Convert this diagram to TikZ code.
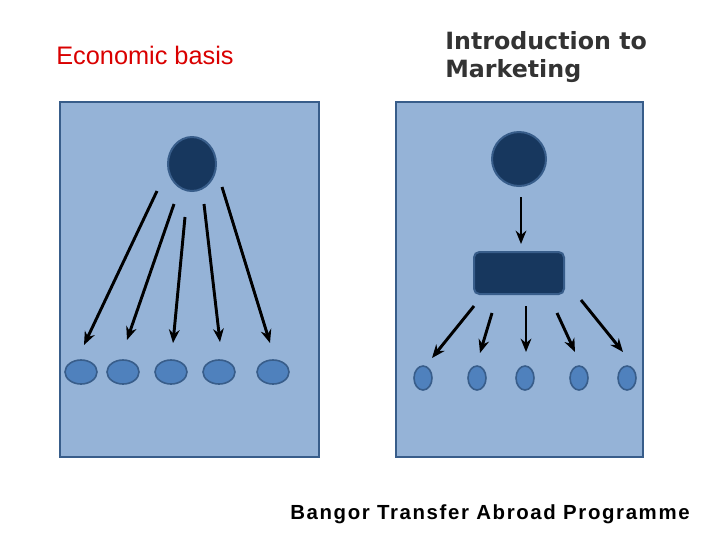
\documentclass[tikz,border=0pt]{standalone}
\usepackage{fontspec}
\setmainfont{Liberation Sans}
\newfontfamily\djv{DejaVu Sans}
\usetikzlibrary{arrows.meta}
\definecolor{panel}{HTML}{95B3D7}
\definecolor{edge}{HTML}{385D8A}
\definecolor{dark}{HTML}{17375E}
\definecolor{mid}{HTML}{4F81BD}
\begin{document}
\begin{tikzpicture}[x=0.75pt,y=-0.75pt,
  pan/.style={draw=edge,fill=panel,line width=1.5pt},
  big/.style={draw=edge,fill=dark,line width=1.5pt},
  sm/.style={draw=edge,fill=mid,line width=1.2pt},
  arr/.style={-{Stealth[length=10pt,width=8pt]},line width=2.2pt,black}]
\useasboundingbox (0,0) rectangle (720,540);
\draw[pan] (60,102) rectangle (319,457);
\draw[pan] (396,102) rectangle (643,457);
\node[anchor=west,inner sep=0pt,font=\fontsize{19}{22}\selectfont,text=red!85!black] (t1) at (56,55) {Economic basis};
\node[align=left,anchor=west,inner sep=0pt,text=black!80,font=\djv\bfseries\fontsize{17.8}{21.5}\selectfont] (t2) at (445,57) {Introduction to\\Marketing};
\node[anchor=west,inner sep=0pt,font=\fontsize{15.3}{18}\selectfont\bfseries\addfontfeature{LetterSpace=8}] (t3) at (290,514) {Bangor Transfer Abroad Programme};
\draw[big] (192,164) ellipse (24 and 27);
\draw[big] (519,159) ellipse (27 and 27);
\draw[big,rounded corners=4pt] (474,252) rectangle (564,294);
\foreach \x in {81,123,171,219,273} \draw[sm] (\x,372) ellipse (16 and 12);
\foreach \x in {423,477,525,579,627} \draw[sm] (\x,378) ellipse (9 and 12);
\draw[arr] (157,191) -- (84,345);
\draw[arr] (174,204) -- (127,340);
\draw[arr] (185,217) -- (173,343);
\draw[arr] (204,204) -- (220,342);
\draw[arr] (222,187) -- (270,343);
\draw[arr] (521,197) -- (521,244);
\draw[arr] (474,306) -- (432,358);
\draw[arr] (492,313) -- (480,353);
\draw[arr] (526,306) -- (526,352);
\draw[arr] (557,313) -- (575,352);
\draw[arr] (581,300) -- (623,352);
\end{tikzpicture}
\end{document}
